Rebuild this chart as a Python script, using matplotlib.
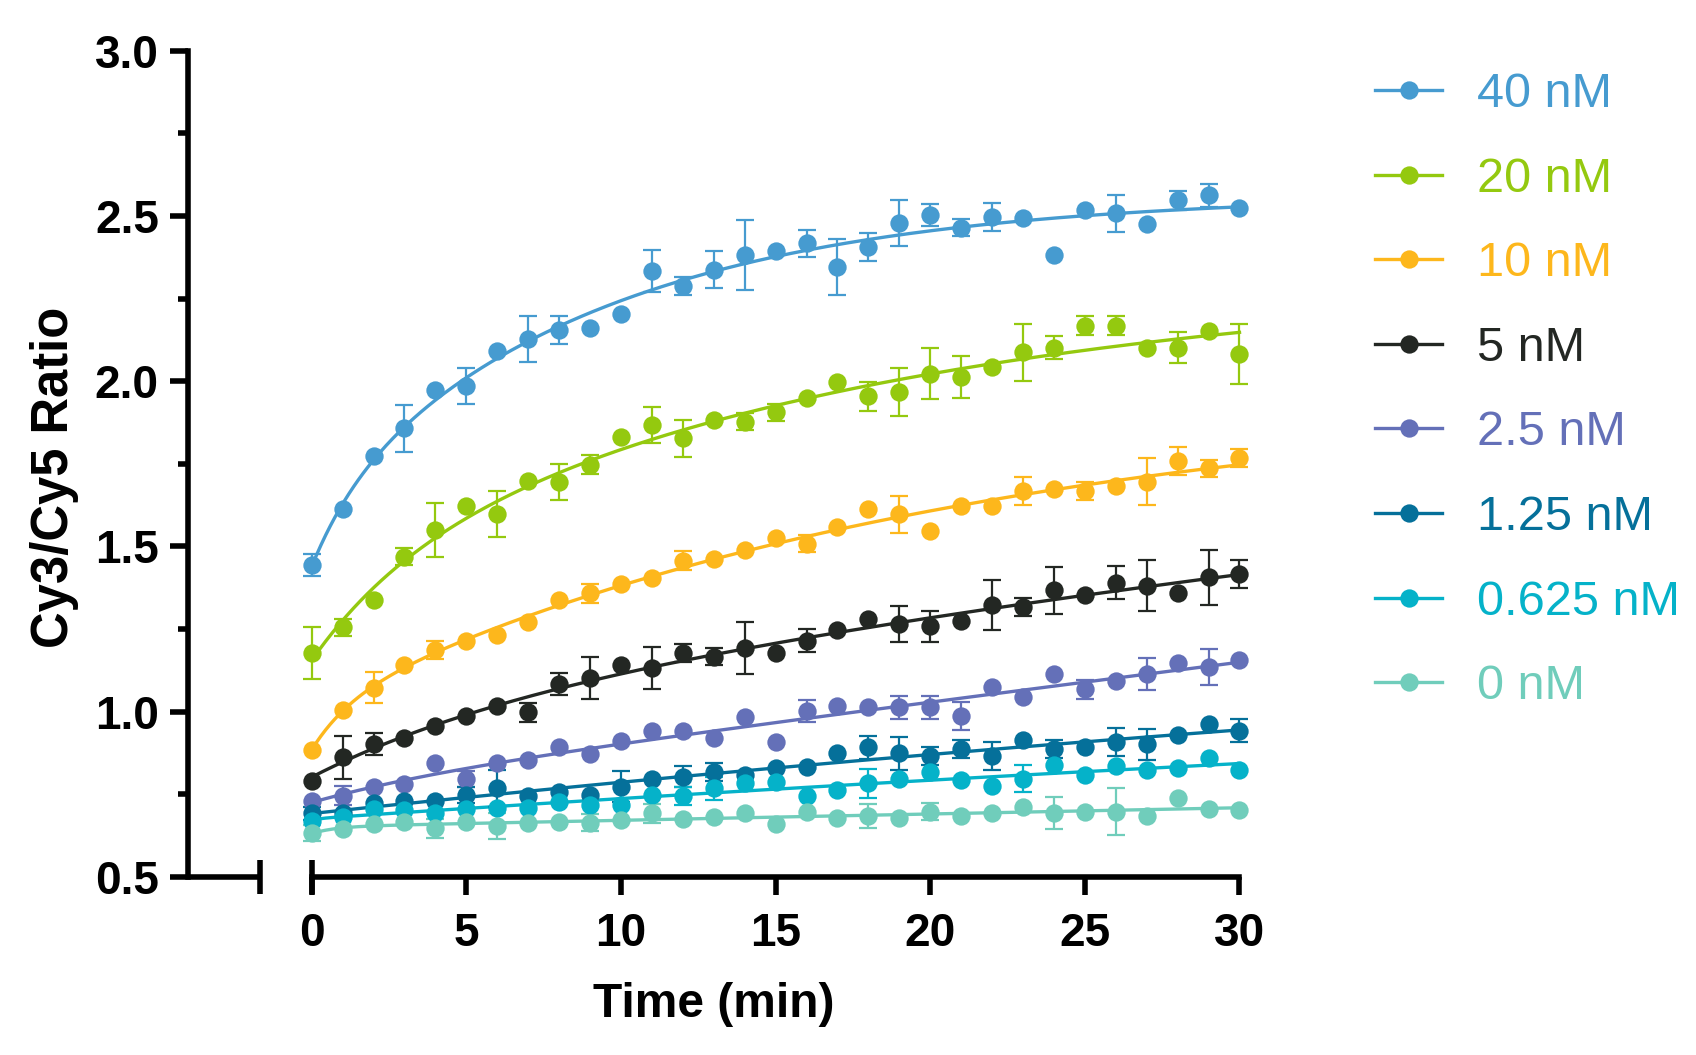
import numpy as np
import matplotlib
matplotlib.use("Agg")
import matplotlib.pyplot as plt
from matplotlib.lines import Line2D
import matplotlib.transforms as mtransforms

plt.rcParams['font.family'] = ['Liberation Sans', 'DejaVu Sans']

# ---------------- data ----------------
time_min = list(range(0, 31))

labels = ["40 nM", "20 nM", "10 nM", "5 nM", "2.5 nM", "1.25 nM", "0.625 nM", "0 nM"]
colors = ["#469BD0", "#94C90F", "#FDB71C", "#232723", "#6470B8", "#05709A", "#05B2C9", "#70CDBB"]

c40 = [1.444, 1.612, 1.774, 1.857, 1.973, 1.986, 2.092, 2.128, 2.155, 2.162, 2.203, 2.333, 2.288, 2.338, 2.382, 2.394,
       2.417, 2.346, 2.407, 2.479, 2.503, 2.465, 2.498, 2.493, 2.382, 2.518, 2.508, 2.476, 2.548, 2.563, 2.523]
e40 = [0.034, 0, 0, 0.07, 0, 0.055, 0, 0.07, 0.043, 0, 0, 0.064, 0.028, 0.056, 0.106, 0,
       0.042, 0.085, 0.042, 0.07, 0.034, 0.026, 0.042, 0, 0, 0, 0.056, 0, 0.029, 0.035, 0]

c20 = [1.177, 1.255, 1.338, 1.469, 1.550, 1.622, 1.598, 1.698, 1.696, 1.748, 1.832, 1.867, 1.827, 1.883, 1.878, 1.906,
       1.948, 1.999, 1.955, 1.968, 2.022, 2.012, 2.042, 2.087, 2.102, 2.168, 2.168, 2.102, 2.102, 2.153, 2.082]
e20 = [0.078, 0.027, 0, 0.026, 0.083, 0, 0.069, 0, 0.055, 0.029, 0, 0.055, 0.056, 0, 0.026, 0.026,
       0, 0, 0.044, 0.072, 0.077, 0.063, 0, 0.085, 0.035, 0.028, 0.028, 0, 0.048, 0, 0.091]

c10 = [0.884, 1.005, 1.073, 1.141, 1.187, 1.214, 1.232, 1.272, 1.338, 1.358, 1.386, 1.404, 1.457, 1.462, 1.489, 1.525,
       1.509, 1.558, 1.612, 1.597, 1.548, 1.622, 1.622, 1.668, 1.673, 1.668, 1.683, 1.696, 1.759, 1.736, 1.767]
e10 = [0, 0, 0.048, 0, 0.028, 0, 0, 0, 0, 0.029, 0, 0, 0.028, 0, 0, 0,
       0.025, 0, 0, 0.055, 0, 0, 0, 0.042, 0, 0.027, 0, 0.072, 0.042, 0.027, 0.027]

c5 = [0.790, 0.862, 0.902, 0.922, 0.958, 0.988, 1.017, 0.998, 1.084, 1.103, 1.141, 1.133, 1.179, 1.167, 1.192, 1.177,
      1.215, 1.247, 1.281, 1.265, 1.259, 1.275, 1.323, 1.316, 1.368, 1.353, 1.391, 1.381, 1.358, 1.407, 1.417]
e5 = [0, 0.064, 0.034, 0, 0, 0, 0, 0.028, 0.034, 0.063, 0, 0.063, 0.027, 0.027, 0.078, 0,
      0.034, 0, 0, 0.055, 0.047, 0, 0.077, 0.027, 0.071, 0, 0.049, 0.077, 0, 0.083, 0.042]

c2_5 = [0.731, 0.746, 0.771, 0.781, 0.844, 0.796, 0.844, 0.854, 0.892, 0.872, 0.912, 0.942, 0.942, 0.922, 0.985, 0.907,
        1.003, 1.017, 1.014, 1.013, 1.013, 0.988, 1.074, 1.044, 1.114, 1.068, 1.094, 1.114, 1.148, 1.136, 1.156]
e2_5 = [0, 0.028, 0, 0, 0, 0.025, 0, 0, 0, 0, 0, 0, 0, 0, 0, 0,
        0.033, 0, 0, 0.035, 0.035, 0.042, 0, 0, 0, 0.029, 0, 0.048, 0, 0.055, 0]

c1_25 = [0.693, 0.693, 0.723, 0.731, 0.731, 0.748, 0.768, 0.746, 0.758, 0.748, 0.773, 0.798, 0.803, 0.818, 0.808, 0.829,
         0.832, 0.874, 0.892, 0.874, 0.866, 0.886, 0.866, 0.916, 0.887, 0.894, 0.909, 0.901, 0.930, 0.963, 0.943]
e1_25 = [0.02, 0, 0, 0, 0, 0.025, 0.055, 0, 0, 0, 0.047, 0, 0.032, 0.027, 0, 0,
         0, 0, 0.034, 0.049, 0.028, 0.027, 0.042, 0, 0.027, 0, 0.042, 0.048, 0, 0, 0.035]

c0_625 = [0.670, 0.682, 0.705, 0.703, 0.693, 0.705, 0.708, 0.710, 0.728, 0.718, 0.718, 0.748, 0.745, 0.768, 0.785, 0.786,
          0.746, 0.763, 0.783, 0.798, 0.819, 0.793, 0.776, 0.798, 0.839, 0.808, 0.836, 0.824, 0.829, 0.859, 0.824]
e0_625 = [0, 0, 0, 0, 0, 0, 0, 0, 0, 0, 0, 0, 0.027, 0.034, 0, 0,
          0, 0, 0.045, 0, 0, 0, 0, 0.041, 0, 0, 0, 0, 0, 0, 0]

c0 = [0.632, 0.644, 0.660, 0.667, 0.647, 0.667, 0.654, 0.664, 0.667, 0.664, 0.672, 0.693, 0.674, 0.682, 0.693, 0.660,
      0.696, 0.677, 0.685, 0.677, 0.698, 0.685, 0.693, 0.713, 0.693, 0.698, 0.698, 0.685, 0.738, 0.705, 0.703]
e0 = [0.024, 0, 0, 0, 0.029, 0, 0.039, 0, 0, 0.026, 0, 0.029, 0, 0, 0, 0,
      0, 0, 0.036, 0, 0.026, 0, 0, 0, 0.049, 0, 0.07, 0, 0, 0, 0]

means = [c40, c20, c10, c5, c2_5, c1_25, c0_625, c0]
errs = [e40, e20, e10, e5, e2_5, e1_25, e0_625, e0]

x_ticks = [0, 5, 10, 15, 20, 25, 30]
y_ticks = [0.5, 1.0, 1.5, 2.0, 2.5, 3.0]


def fit_two_phase(x, y):
    """Least-squares fit y = a + b*(1-exp(-k1 x)) + c*(1-exp(-k2 x)), grid over k1<k2,
    keeping b, c >= 0 (monotone association curve)."""
    ks = np.logspace(-3, 1, 70)
    best = None
    for i, k1 in enumerate(ks):
        for k2 in ks[i:]:
            A = np.column_stack([np.ones_like(x), 1 - np.exp(-k1 * x), 1 - np.exp(-k2 * x)])
            coef, *_ = np.linalg.lstsq(A, y, rcond=None)
            if coef[1] < 0 or coef[2] < 0:
                continue
            r = np.sum((A @ coef - y) ** 2)
            if best is None or r < best[0]:
                best = (r, k1, k2, coef)
    _, k1, k2, coef = best
    return lambda xx: coef[0] + coef[1] * (1 - np.exp(-k1 * xx)) + coef[2] * (1 - np.exp(-k2 * xx))


# ---------------- figure ----------------
W, H = 1696, 1055
fig = plt.figure(figsize=(W / 100, H / 100), dpi=100)
px_left, px_right, px_top, px_bottom = 188, 1239.5, 50.7, 877
ax = fig.add_axes([px_left / W, 1 - px_bottom / H, (px_right - px_left) / W, (px_bottom - px_top) / H])

x = np.array(time_min, dtype=float)
xx = np.linspace(0, 30, 400)
order = list(range(len(labels)))[::-1]
for idx in order:
    y = np.array(means[idx])
    e = np.array(errs[idx])
    col = colors[idx]
    f = fit_two_phase(x, y)
    ax.plot(xx, f(xx), color=col, lw=2.4, zorder=3 + idx * 0.01, clip_on=False)
    m = e > 0
    ax.errorbar(x[m], y[m], yerr=e[m], fmt='none', ecolor=col, elinewidth=1.6,
                capsize=6.8, capthick=1.6, zorder=3.5 + idx * 0.01, clip_on=False)
    ax.plot(x, y, ls='none', marker='o', ms=13.2, color=col, mec='none',
            zorder=4 + idx * 0.01, clip_on=False)

ax.set_xlim(-4, 30)
ax.set_ylim(0.5, 3.0)
ax.set_xticks(x_ticks)
ax.set_yticks(y_ticks)
ax.set_yticks([0.75, 1.25, 1.75, 2.25, 2.75], minor=True)
ax.set_yticklabels([f"{v:.1f}" for v in y_ticks])

for s in ['top', 'right']:
    ax.spines[s].set_visible(False)
lw_axis = 4.0
ax.spines['left'].set_linewidth(lw_axis)
ax.spines['bottom'].set_linewidth(lw_axis)
ax.spines['bottom'].set_bounds(0, 30)

ax.tick_params(axis='both', which='major', length=13, width=lw_axis, direction='out',
               labelsize=33, pad=8)
ax.tick_params(axis='y', which='minor', length=7.5, width=lw_axis, direction='out')
ax.tick_params(axis='x', pad=12)
for lab in ax.get_xticklabels() + ax.get_yticklabels():
    lab.set_fontweight('bold')

# broken x-axis: left stub segment and break markers
brk = -1.67
trans = mtransforms.blended_transform_factory(ax.transData, ax.transAxes)
ax.plot([-4, brk], [0, 0], color='black', lw=lw_axis, transform=trans, clip_on=False,
        solid_capstyle='butt', zorder=5)
ax.plot([brk, 0], [0, 0], ls='none', marker='|', ms=25, mew=lw_axis, color='black',
        transform=trans, clip_on=False, zorder=5)

ax.set_xlabel("Time (min)", fontsize=34.5, fontweight='bold')
ax.set_ylabel("Cy3/Cy5 Ratio", fontsize=36.5, fontweight='bold')
ax.xaxis.set_label_coords(0.5, -0.127)
ax.yaxis.set_label_coords(-0.104, 0.484)

# legend
handles = [Line2D([], [], color=c, lw=2.4, marker='o', ms=13.2, mec='none') for c in colors]
leg = fig.legend(handles, labels, loc='upper left', bbox_to_anchor=(1375 / W, 1 - 72 / H),
                 frameon=False, fontsize=35, handlelength=1.38, handletextpad=0.72,
                 labelspacing=0.815, borderpad=0, borderaxespad=0)
for t, c in zip(leg.get_texts(), colors):
    t.set_color(c)

fig.savefig("out.png", dpi=100)
